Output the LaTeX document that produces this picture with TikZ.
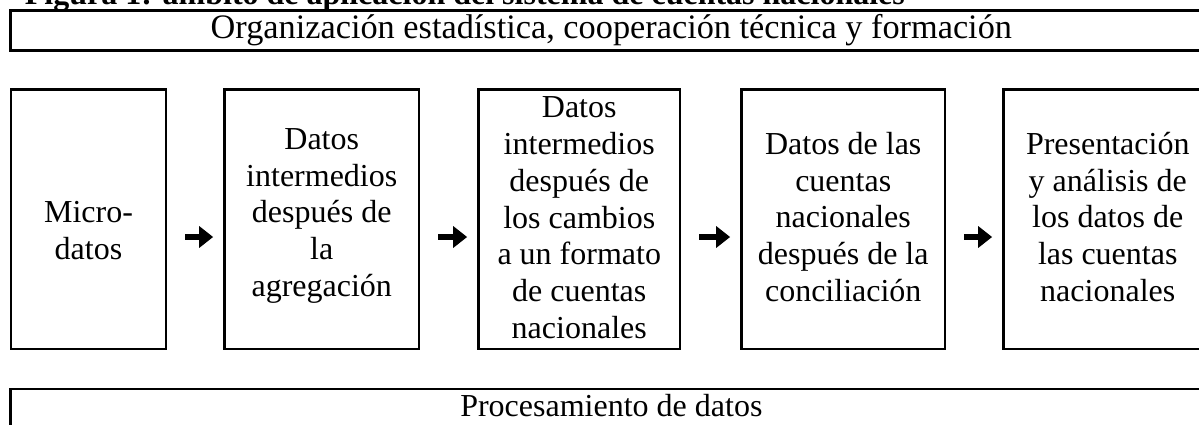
\documentclass[tikz,border=0pt]{standalone}
\usepackage{fontspec}
\setmainfont{Liberation Serif}
\usetikzlibrary{arrows.meta}
\newdimen\pxu \pxu=0.5pt
\begin{document}
\begin{tikzpicture}[x=0.5pt, y=-0.5pt,
  frame/.style={draw=black, line width=1.35pt, inner sep=0pt},
  txt/.style={font=\fontsize{16}{18.35}\selectfont, align=center, inner sep=0pt},
  arr/.style={line width=3.4pt, -{Triangle[length=7pt,width=10.5pt]}, shorten <=9pt, shorten >=5pt}]
\useasboundingbox (0,0) rectangle (1199,424);
% title (cut off at top)
\node[anchor=base west, font=\bfseries\fontsize{16}{18.35}\selectfont, inner sep=0pt] (title) at (24.5,4.5) {Figura 1: ámbito de aplicación del sistema de cuentas nacionales};
% top band
\node[frame, txt, font=\fontsize{17.15}{19.7}\selectfont, minimum width=1201.3\pxu, minimum height=40.2\pxu] (org) at (611.35,30.4) {Organización estadística, cooperación técnica y formación};
% boxes
\node[frame, minimum width=155\pxu, minimum height=259.5\pxu] (b1) at (88.5,219.25) {};
\node[frame, minimum width=194.5\pxu, minimum height=259.5\pxu] (b2) at (321.75,219.25) {};
\node[frame, minimum width=201.5\pxu, minimum height=259.5\pxu] (b3) at (579.25,219.25) {};
\node[frame, minimum width=203.5\pxu, minimum height=259.5\pxu] (b4) at (843.25,219.25) {};
\node[frame, minimum width=208.5\pxu, minimum height=259.5\pxu] (b5) at (1107.75,219.25) {};
% box texts
\node[txt] (t1) at (88.5,234.0) {\strut Micro-\\datos\strut};
\node[txt] (t2) at (321.75,215.65) {\strut Datos\\intermedios\\después de\\la\\agregación\strut};
\node[txt] (t3) at (579.25,220.75) {\strut Datos\\intermedios\\después de\\los cambios\\a un formato\\de cuentas\\nacionales\strut};
\node[txt] (t4) at (843.25,220.65) {\strut Datos de las\\cuentas\\nacionales\\después de la\\conciliación\strut};
\node[txt] (t5) at (1107.75,220.65) {\strut Presentación\\y análisis de\\los datos de\\las cuentas\\nacionales\strut};
% arrows
\draw[arr] ([yshift=-8.875pt]b1.east) -- ([yshift=-8.875pt]b2.west);
\draw[arr] ([yshift=-8.875pt]b2.east) -- ([yshift=-8.875pt]b3.west);
\draw[arr] ([yshift=-8.875pt]b3.east) -- ([yshift=-8.875pt]b4.west);
\draw[arr] ([yshift=-8.875pt]b4.east) -- ([yshift=-8.875pt]b5.west);
% bottom band
\node[frame, minimum width=1201.3\pxu, minimum height=80\pxu] (proc) at (611.35,429) {};
\node[txt, anchor=base] (proctxt) at (611.35,416) {Procesamiento de datos};
\end{tikzpicture}
\end{document}
